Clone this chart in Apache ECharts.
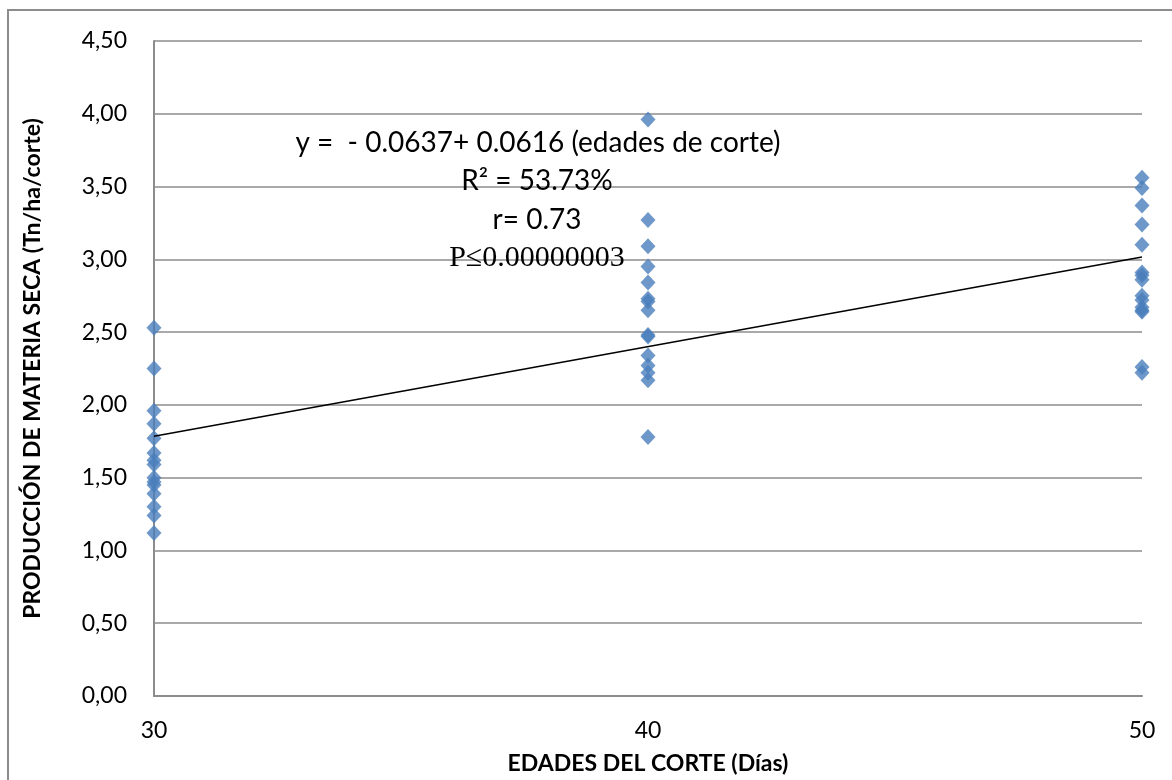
<!DOCTYPE html>
<html>
<head>
<meta charset="utf-8">
<script src="https://cdn.jsdelivr.net/npm/echarts@6/dist/echarts.min.js"></script>
<style>
  html, body { margin: 0; padding: 0; background: #fff; }
  #chart { width: 1172px; height: 780px; }
</style>
</head>
<body>
<div id="chart"></div>
<script>
// Cutting ages (days) and dry-matter yield per cut (t/ha)
const ages = [30, 40, 50];
const yield30 = [2.53, 2.25, 1.96, 1.87, 1.77, 1.67, 1.62, 1.59, 1.50, 1.47, 1.45, 1.39, 1.30, 1.24, 1.12];
const yield40 = [3.96, 3.27, 3.09, 2.95, 2.84, 2.73, 2.71, 2.65, 2.48, 2.47, 2.34, 2.27, 2.22, 2.17, 1.78];
const yield50 = [3.56, 3.49, 3.37, 3.24, 3.10, 2.91, 2.89, 2.86, 2.75, 2.72, 2.67, 2.65, 2.64, 2.26, 2.22];

// Fitted regression: y = a + b * age
const intercept = -0.0637;
const slope = 0.0616;

const annotationLines = [
  'y =  - 0.0637+ 0.0616 (edades de corte)',
  'R² = 53.73%',
  'r= 0.73',
  'P≤0.00000003'
];

const groups = [yield30, yield40, yield50];
const points = [];
groups.forEach((g, i) => g.forEach(v => points.push([ages[i], v])));

const xMin = ages[0], xMax = ages[ages.length - 1];
const fitLine = [[xMin, intercept + slope * xMin], [xMax, intercept + slope * xMax]];

const baseFont = 'Lato, "Noto Sans", sans-serif';
const serifFont = '"Liberation Serif", "DejaVu Serif", serif';
const chart = echarts.init(document.getElementById('chart'));

function note(text, x, y, font) {
  return {
    type: 'text', x: x, y: y, z: 10,
    style: { text: text, font: font, fill: '#000', align: 'center', verticalAlign: 'middle' }
  };
}

chart.setOption({
  backgroundColor: '#ffffff',
  animation: false,
  grid: { left: 154, right: 30, top: 41, bottom: 80, containLabel: false },
  xAxis: {
    type: 'value',
    min: 30, max: 50, interval: 10,
    name: 'EDADES DEL CORTE (Días)',
    nameLocation: 'middle',
    nameGap: 56,
    nameTextStyle: { fontFamily: baseFont, fontWeight: 'bold', fontSize: 23, color: '#000' },
    axisLine: { show: true, lineStyle: { color: '#8c8c8c', width: 2 } },
    axisTick: { show: false },
    axisLabel: { fontFamily: baseFont, fontSize: 23, color: '#000', margin: 23 },
    splitLine: { show: false }
  },
  yAxis: {
    type: 'value',
    min: 0, max: 4.5, interval: 0.5,
    name: 'PRODUCCIÓN DE MATERIA SECA (Tn/ha/corte)',
    nameLocation: 'middle',
    nameGap: 110,
    nameTextStyle: { fontFamily: baseFont, fontWeight: 'bold', fontSize: 23, color: '#000' },
    axisLine: { show: true, lineStyle: { color: '#8c8c8c', width: 2 } },
    axisTick: { show: false },
    axisLabel: {
      fontFamily: baseFont, fontSize: 23, color: '#000', margin: 27,
      formatter: v => v.toFixed(2).replace('.', ',')
    },
    splitLine: { show: true, lineStyle: { color: '#8c8c8c', width: 1.5 } }
  },
  series: [
    {
      type: 'scatter',
      data: points,
      symbol: 'diamond',
      symbolSize: [15, 16],
      itemStyle: { color: '#4a7ebb' },
      z: 3
    },
    {
      type: 'line',
      data: fitLine,
      symbol: 'none',
      lineStyle: { color: '#000', width: 1.5 },
      z: 4
    }
  ],
  graphic: [
    {
      type: 'rect',
      shape: { x: 8, y: 10, width: 1200, height: 800 },
      style: { fill: 'none', stroke: '#8c8c8c', lineWidth: 2 },
      silent: true
    },
    note(annotationLines[0], 538, 143, '28px ' + baseFont),
    note(annotationLines[1], 537, 181, '28px ' + baseFont),
    note(annotationLines[2], 537, 220, '28px ' + baseFont),
    note(annotationLines[3], 537, 258, '30px ' + serifFont)
  ]
});
</script>
</body>
</html>
